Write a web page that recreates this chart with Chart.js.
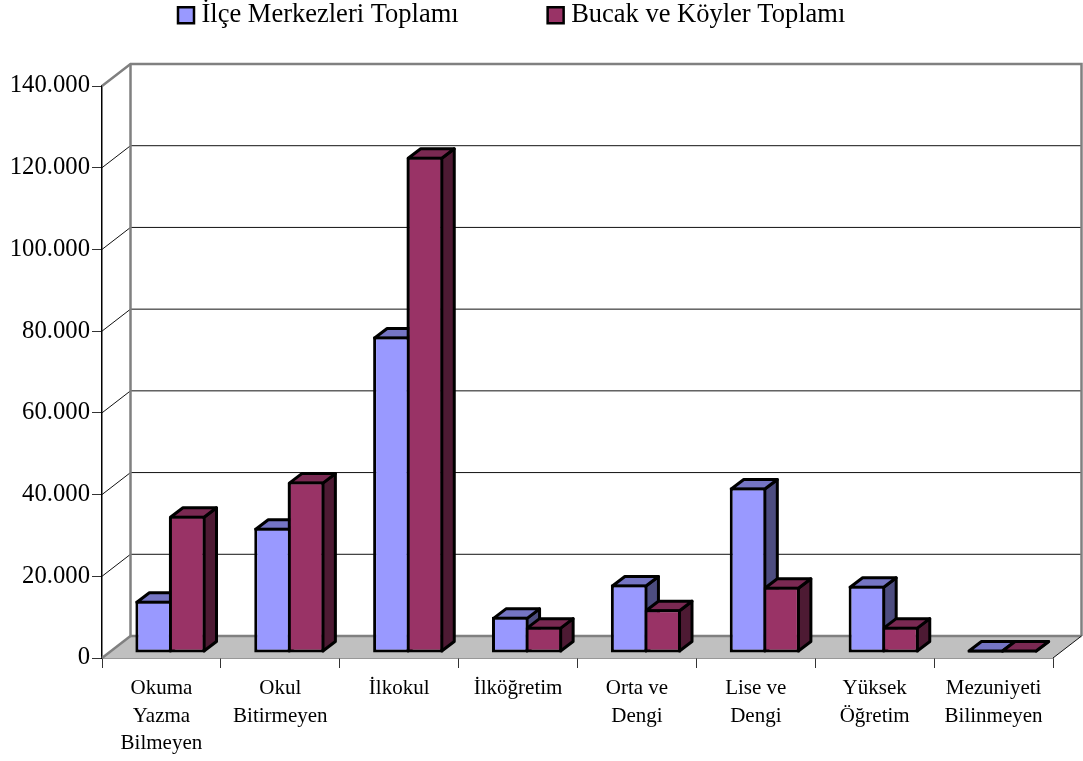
<!DOCTYPE html>
<html lang="tr"><head><meta charset="utf-8">
<style>html,body{margin:0;padding:0;background:#fff}canvas{display:block}</style>
<script src="https://cdn.jsdelivr.net/npm/chart.js@4"></script>
</head><body><canvas id="c" width="1083" height="761"></canvas>
<script>
const categories = [["Okuma","Yazma","Bilmeyen"],["Okul","Bitirmeyen"],["İlkokul"],["İlköğretim"],["Orta ve","Dengi"],["Lise ve","Dengi"],["Yüksek","Öğretim"],["Mezuniyeti","Bilinmeyen"]];
const seriesNames = ["İlçe Merkezleri Toplamı","Bucak ve Köyler Toplamı"];
const ilceMerkezleri = [12800,30640,77450,8850,16770,40500,16450,300];
const bucakKoyler = [33580,41950,121450,6450,10720,16200,6450,200];

const FONT = '"Liberation Serif","Times New Roman",serif';
const BACK = {dx:28.5, dy:-22};   // wall depth
const BAR  = {dx:9, dy:-5};       // bar offset into the floor
const DEPTH = {dx:12.5, dy:-9.5}; // bar depth
const FACES = [{top:'#7575C4',side:'#4D4D80'},{top:'#7A2952',side:'#4D1A33'}];
const WALL = '#808080', GRID = '#111', EDGE = 3;

function line(ctx,pts,color,w){ctx.beginPath();pts.forEach((p,i)=>i?ctx.lineTo(p[0],p[1]):ctx.moveTo(p[0],p[1]));ctx.strokeStyle=color;ctx.lineWidth=w;ctx.stroke();}
function poly(ctx,pts,fill,stroke,w){ctx.beginPath();pts.forEach((p,i)=>i?ctx.lineTo(p[0],p[1]):ctx.moveTo(p[0],p[1]));ctx.closePath();ctx.fillStyle=fill;ctx.fill();if(stroke){ctx.strokeStyle=stroke;ctx.lineWidth=w;ctx.lineJoin='round';ctx.stroke();}}

const scene3d = {
  id:'scene3d',
  beforeUpdate(chart){
    const l=chart.legend;
    if(l && !l._fitWrapped){const f=l.fit;l.fit=function(){f.call(this);this.height=86;};l._fitWrapped=true;}
  },
  afterLayout(chart){
    const l=chart.legend, p=l.options.labels.padding;
    l.left=183.75-p; l.top=2-p;
  },
  beforeDatasetsDraw(chart){
    const ctx=chart.ctx,x=chart.scales.x,y=chart.scales.y;
    const L=x.left,R=x.right,B=y.getPixelForValue(0),T=y.getPixelForValue(140000);
    const dx=BACK.dx,dy=BACK.dy;
    ctx.save();
    poly(ctx,[[L,B],[L+dx,B+dy],[R+dx,B+dy],[R,B]],'#C0C0C0');
    y.ticks.forEach(t=>{
      const py=y.getPixelForValue(t.value);
      if(t.value>0&&t.value<140000){
        line(ctx,[[L,py],[L+dx,py+dy],[R+dx,py+dy]],GRID,1);
      }
    });
    line(ctx,[[L,T],[L+dx,T+dy],[R+dx,T+dy],[R+dx,B+dy]],WALL,2.5);
    line(ctx,[[L+dx,T+dy],[L+dx,B+dy],[R+dx,B+dy]],WALL,2.5);
    line(ctx,[[L,B],[L+dx,B+dy]],WALL,2.5);
    line(ctx,[[R,B],[R+dx,B+dy]],GRID,1);
    ctx.restore();
    // side and top faces of every bar, behind the fronts the library draws
    ctx.save();
    ctx.translate(BAR.dx,BAR.dy);
    const i=EDGE/2,ddx=DEPTH.dx,ddy=DEPTH.dy;
    FACES.forEach((f,k)=>{
      chart.getDatasetMeta(k).data.forEach(el=>{
        const w=el.width/2,l=el.x-w,r=el.x+w,b=el.base-i,t=Math.min(el.y+i,b);
        const rr=k===0?r:r-i, ll=k===1?l:l+i;
        poly(ctx,[[rr,t],[rr+ddx,t+ddy],[rr+ddx,b+ddy],[rr,b]],f.side,'#000',EDGE);
        poly(ctx,[[ll,t],[ll+ddx,t+ddy],[rr+ddx,t+ddy],[rr,t]],f.top,'#000',EDGE);
        if(k===1) line(ctx,[[l,t],[l,b]],'#000',EDGE);
      });
    });
  },
  afterDatasetsDraw(chart){chart.ctx.restore();}
};

new Chart(document.getElementById('c'),{
  type:'bar',
  data:{labels:categories,datasets:[
    {label:seriesNames[0],data:ilceMerkezleri,backgroundColor:'#9999FF',borderWidth:{top:EDGE,bottom:EDGE,left:EDGE,right:EDGE/2}},
    {label:seriesNames[1],data:bucakKoyler,backgroundColor:'#993366',borderWidth:{top:EDGE,bottom:EDGE,left:EDGE/2,right:EDGE}}
  ].map(d=>Object.assign(d,{borderColor:'#000',borderSkipped:false,categoryPercentage:0.59,barPercentage:1,clip:false}))},
  options:{
    responsive:false,animation:false,devicePixelRatio:1,
    layout:{padding:{left:0,right:30,top:0,bottom:0}},
    plugins:{
      tooltip:{enabled:false},
      title:{display:false},
      legend:{display:true,position:'top',align:'start',
        labels:{color:'#000',font:{family:FONT,size:26.5},padding:94.75,boxWidth:4.5,boxHeight:16,usePointStyle:true,pointStyle:'rect',
          generateLabels(chart){return chart.data.datasets.map((d,i)=>({text:d.label,fillStyle:d.backgroundColor,strokeStyle:'#000',lineWidth:2.5,pointStyle:'rect',datasetIndex:i,hidden:false}));}
        }
      }
    },
    scales:{
      x:{
        afterFit(s){s.height=103;},
        border:{color:'#333',width:1.5},
        grid:{drawOnChartArea:false,drawTicks:true,tickLength:10,color:'#333',lineWidth:1},
        ticks:{color:'#000',font:{family:FONT,size:21,lineHeight:1.333},maxRotation:0,minRotation:0,autoSkip:false,padding:6}
      },
      y:{
        min:0,max:140000,
        afterFit(s){s.width=102;},
        border:{color:'#000',width:1.5},
        grid:{drawOnChartArea:false,drawTicks:true,tickLength:10,color:'#333',lineWidth:1},
        ticks:{stepSize:20000,color:'#000',font:{family:FONT,size:24.7},padding:2,
          callback:v=>String(v).replace(/\B(?=(\d{3})+$)/g,'.')}
      }
    }
  },
  plugins:[scene3d]
});
</script></body></html>
